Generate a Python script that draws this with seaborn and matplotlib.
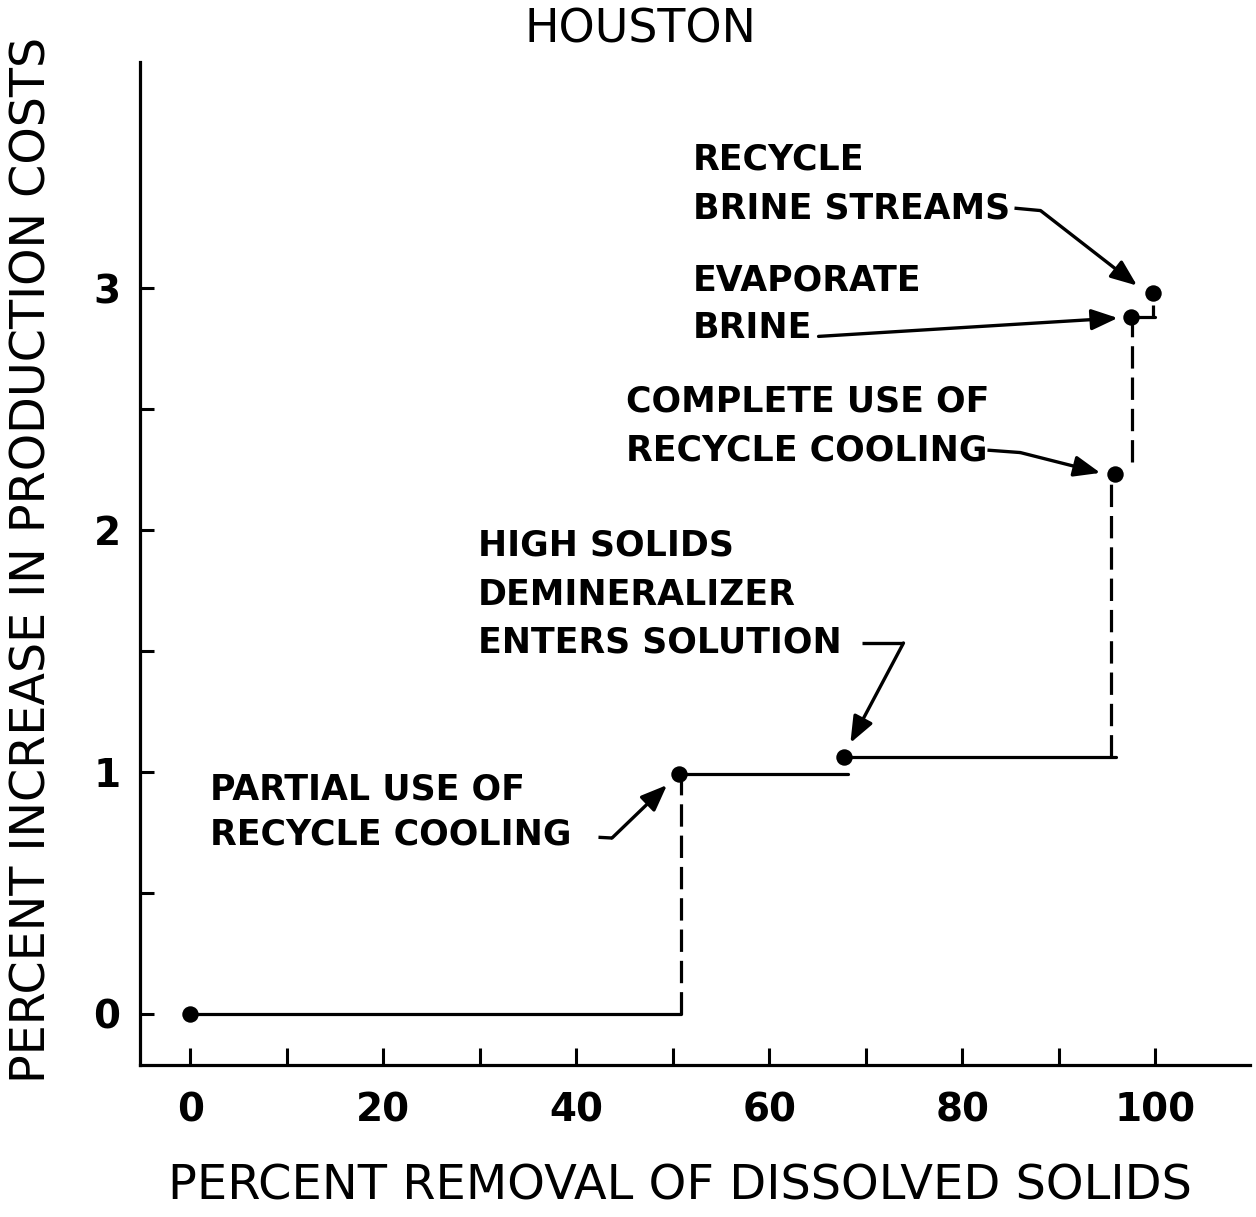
import matplotlib
matplotlib.use("Agg")
import matplotlib.pyplot as plt
import pandas as pd
import seaborn as sns

# ---- data ----
removal = [0.0, 50.6, 67.7, 95.8, 97.5, 99.8]
cost = [0.0, 0.99, 1.06, 2.23, 2.88, 2.98]

step_y = [0.0, 0.99, 1.06, 2.88]
step_x0 = [0.0, 50.6, 67.7, 97.5]
step_x1 = [50.8, 68.2, 95.9, 100.0]

rise_x = [50.8, 95.4, 97.6, 99.8]
rise_y0 = [0.0, 1.06, 2.28, 2.88]
rise_y1 = [0.99, 2.20, 2.88, 2.93]

x_ticks = list(range(0, 101, 10))
x_labels = ["0", "", "20", "", "40", "", "60", "", "80", "", "100"]
y_ticks = [0, 0.5, 1, 1.5, 2, 2.5, 3]
y_labels = ["0", "", "1", "", "2", "", "3"]

note_lines = [
    ["RECYCLE", "BRINE STREAMS"],
    ["EVAPORATE", "BRINE"],
    ["COMPLETE USE OF", "RECYCLE COOLING"],
    ["HIGH SOLIDS", "DEMINERALIZER", "ENTERS SOLUTION"],
    ["PARTIAL USE OF", "RECYCLE COOLING"],
]
note_x = [52.1, 52.1, 45.1, 29.8, 2.1]
note_y = [[3.53, 3.33], [3.03, 2.835], [2.53, 2.33], [1.934, 1.731, 1.533], [0.926, 0.74]]
arrow_start = [(85.4, 3.33), (65.1, 2.80), (82.6, 2.33), (69.6, 1.533), (42.3, 0.73)]
arrow_bend = [(88.1, 3.32), None, (86.0, 2.32), (73.9, 1.533), (43.7, 0.727)]
arrow_tip = [(98.1, 3.01), (96.1, 2.876), (94.3, 2.236), (68.4, 1.12), (49.4, 0.946)]

# ---- style ----
sns.set_style("white")
plt.rcParams["font.family"] = ["DejaVu Sans"]

fig = plt.figure(figsize=(12.56, 12.17), dpi=100)
ax = fig.add_axes([140 / 1256, 152 / 1217, 1110 / 1256, 1003 / 1217])

LW = 2.3
for x0, x1, y in zip(step_x0, step_x1, step_y):
    sns.lineplot(x=[x0, x1], y=[y, y], color="black", lw=LW, ax=ax,
                 estimator=None, sort=False)
for x, y0, y1 in zip(rise_x, rise_y0, rise_y1):
    sns.lineplot(x=[x, x], y=[y0, y1], color="black", lw=LW, ax=ax,
                 estimator=None, sort=False, linestyle=(0, (7, 2.8)))

pts = pd.DataFrame({"removal": removal, "cost": cost})
sns.scatterplot(data=pts, x="removal", y="cost", color="black", s=140,
                edgecolor="black", linewidth=0, ax=ax, zorder=5)

# annotations
for lines, x, ys in zip(note_lines, note_x, note_y):
    for line, y in zip(lines, ys):
        ax.text(x, y, line, ha="left", va="center", fontsize=25,
                fontweight="bold", color="black")

for start, bend, tip in zip(arrow_start, arrow_bend, arrow_tip):
    origin = start
    if bend is not None:
        ax.plot([start[0], bend[0]], [start[1], bend[1]], color="black", lw=2.4,
                solid_capstyle="butt")
        origin = bend
    ax.annotate("", xy=tip, xytext=origin,
                arrowprops=dict(arrowstyle="-|>,head_length=0.8,head_width=0.32",
                                mutation_scale=20, lw=2.4, color="black",
                                shrinkA=0, shrinkB=0))

# axes
ax.set_xlim(-5.2, 109.8)
ax.set_ylim(-0.211, 3.934)
ax.set_xticks(x_ticks)
ax.set_xticklabels(x_labels)
ax.set_yticks(y_ticks)
ax.set_yticklabels(y_labels)
ax.tick_params(axis="x", bottom=True, direction="in", length=12, width=2.2, pad=19,
               labelsize=28, colors="black")
ax.tick_params(axis="y", left=True, direction="in", length=10, width=2.2, pad=14,
               labelsize=28, colors="black")
for lab in ax.get_xticklabels() + ax.get_yticklabels():
    lab.set_fontweight("bold")

for side in ["top", "right"]:
    ax.spines[side].set_visible(False)
for side in ["left", "bottom"]:
    ax.spines[side].set_linewidth(2.3)
    ax.spines[side].set_color("black")

ax.set_xlabel("PERCENT REMOVAL OF DISSOLVED SOLIDS", fontsize=34.5, color="black")
ax.xaxis.set_label_coords(0.486, -0.1206)
ax.xaxis.label.set_va("center")
ax.set_ylabel("PERCENT INCREASE IN PRODUCTION COSTS", fontsize=34.3, color="black")
ax.yaxis.set_label_coords(-0.0973, 0.5035)
ax.yaxis.label.set_va("center")

ax.text(0.451, 1.032, "HOUSTON", transform=ax.transAxes, ha="center",
        va="center", fontsize=33, color="black")

fig.savefig("out.png", dpi=100, facecolor="white")
